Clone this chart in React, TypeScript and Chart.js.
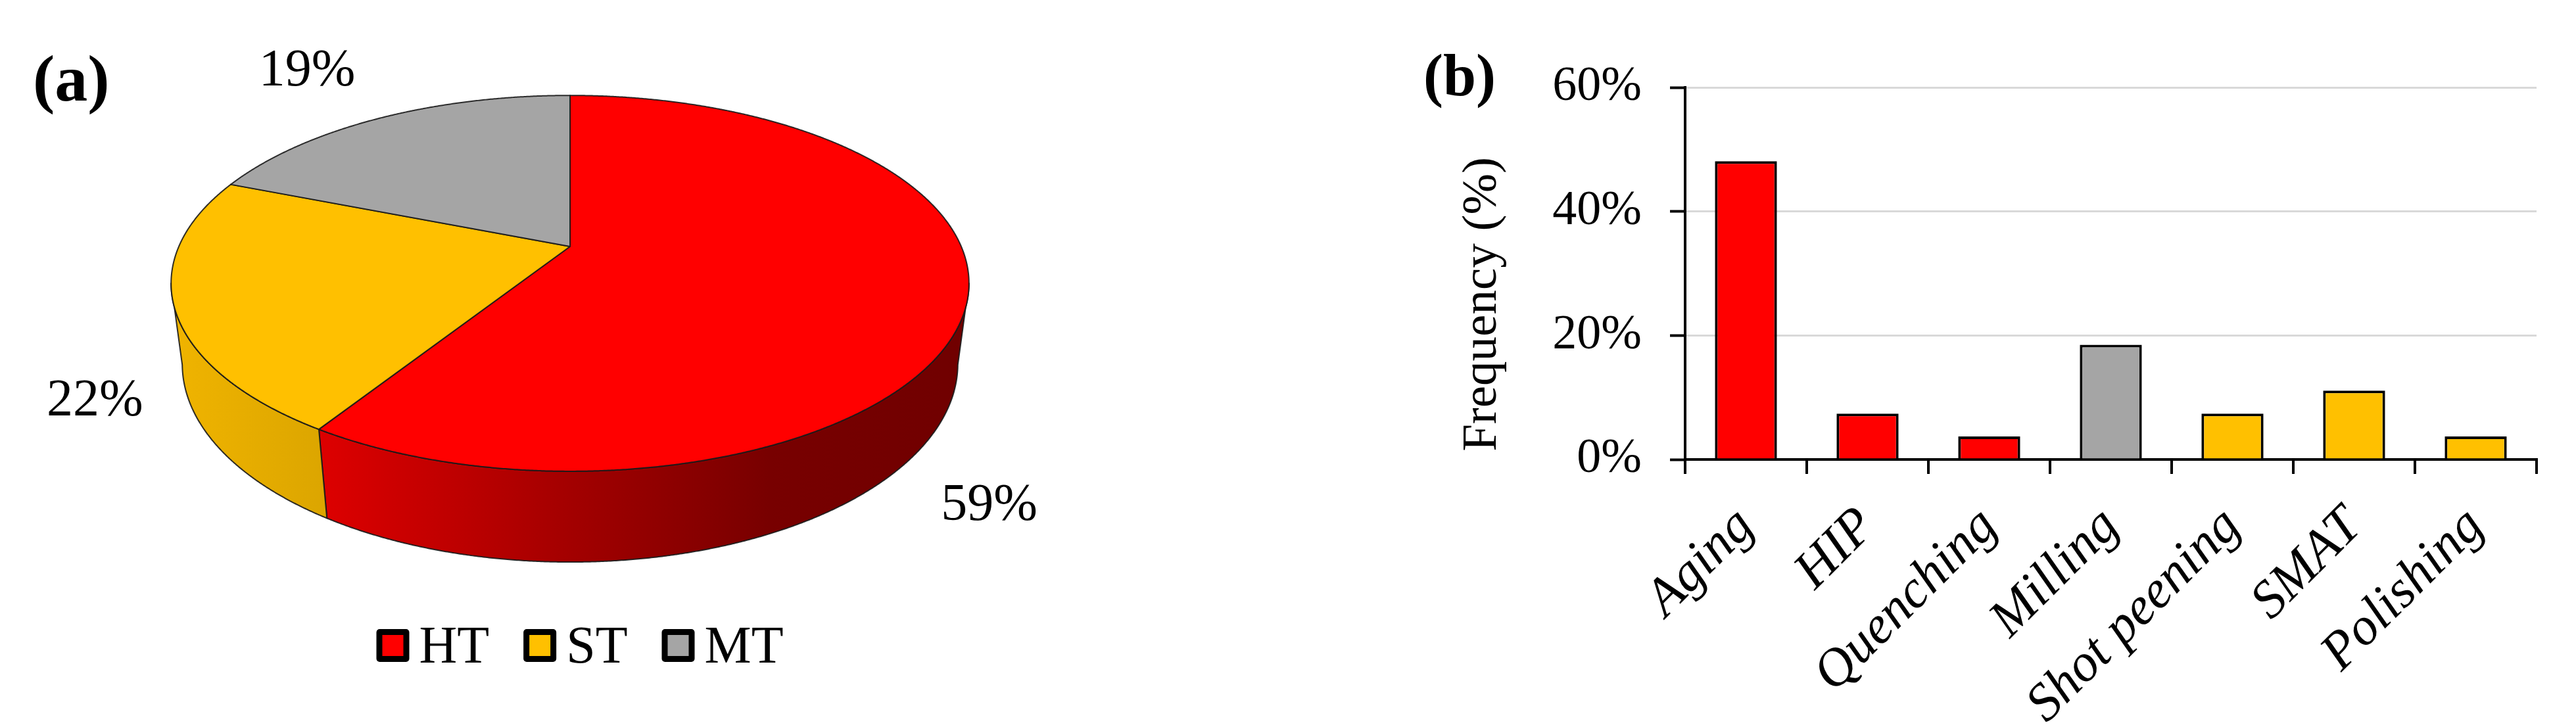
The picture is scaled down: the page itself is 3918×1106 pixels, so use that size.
import React, { useEffect, useRef } from 'react';
import { Chart, registerables } from 'chart.js';

Chart.register(...registerables);

// ---------- data ----------
const pieLabels = ['HT', 'ST', 'MT'];
const pieValues = [59, 22, 19];
const pieColors = ['#FF0000', '#FFC000', '#A5A5A5'];

const barCategories = ['Aging', 'HIP', 'Quenching', 'Milling', 'Shot peening', 'SMAT', 'Polishing'];
const barValues = [48.1, 7.4, 3.7, 18.5, 7.4, 11.1, 3.7];
const barColors = ['#FF0000', '#FF0000', '#FF0000', '#A5A5A5', '#FFC000', '#FFC000', '#FFC000'];
const yTickValues = [0, 20, 40, 60];

const SERIF = '"Liberation Serif", "Times New Roman", Times, serif';

// shading of the pie side wall across its width (position, brightness factor)
const WALL_SHADE: [number, number][] = [
  [0, 0.94],
  [0.2, 0.86],
  [0.5, 0.64],
  [0.75, 0.47],
  [1, 0.44],
];

function shade(hex: string, f: number) {
  const n = parseInt(hex.slice(1), 16);
  const r = (n >> 16) & 255, g = (n >> 8) & 255, b = n & 255;
  return `rgb(${Math.round(r * f)},${Math.round(g * f)},${Math.round(b * f)})`;
}

// ---------- 3D pie plugin ----------
const pie3d = {
  id: 'pie3d',
  beforeDatasetsDraw(chart: any) {
    const meta = chart.getDatasetMeta(0);
    const arcs = meta.data as any[];
    if (!arcs || !arcs.length) return false;
    const ctx: CanvasRenderingContext2D = chart.ctx;
    const cx = arcs[0].x, cy = arcs[0].y, R = arcs[0].outerRadius;
    const A = R, B = 0.462 * R, K = 0.196, CD = 0.209 * R, MD = 0.0277;
    const proj = (ang: number, d: number) => {
      const x = Math.cos(ang), y = Math.sin(ang);
      const w = 1 - K * y + MD * d;
      return [cx + (A * x) / w, cy + (B * y + CD * d) / w];
    };
    const ds = chart.data.datasets[0];
    const colors = ds.backgroundColor as string[];
    const step = 0.004;
    const angMin = Math.asin(K), angMax = Math.PI - angMin;
    const halfW = A / Math.sqrt(1 - K * K);

    ctx.save();
    ctx.lineJoin = 'round';
    ctx.lineWidth = 2;
    ctx.strokeStyle = 'rgba(25,25,25,0.9)';

    // side walls (front facing part)
    arcs.forEach((arc, i) => {
      const lo = Math.max(arc.startAngle, angMin), hi = Math.min(arc.endAngle, angMax);
      if (hi <= lo) return;
      const n = Math.max(2, Math.ceil((hi - lo) / step));
      ctx.beginPath();
      for (let j = 0; j <= n; j++) {
        const p = proj(lo + ((hi - lo) * j) / n, 0);
        if (j) ctx.lineTo(p[0], p[1]); else ctx.moveTo(p[0], p[1]);
      }
      for (let j = n; j >= 0; j--) {
        const p = proj(lo + ((hi - lo) * j) / n, 1);
        ctx.lineTo(p[0], p[1]);
      }
      ctx.closePath();
      const g = ctx.createLinearGradient(cx - halfW, 0, cx + halfW, 0);
      WALL_SHADE.forEach(([t, f]) => g.addColorStop(t, shade(colors[i], f)));
      ctx.fillStyle = g;
      ctx.fill();
      ctx.stroke();
    });

    // top faces
    arcs.forEach((arc, i) => {
      const s = arc.startAngle, e = arc.endAngle;
      const n = Math.max(2, Math.ceil((e - s) / step));
      ctx.beginPath();
      ctx.moveTo(cx, cy);
      for (let j = 0; j <= n; j++) {
        const p = proj(s + ((e - s) * j) / n, 0);
        ctx.lineTo(p[0], p[1]);
      }
      ctx.closePath();
      ctx.fillStyle = colors[i];
      ctx.fill();
      ctx.stroke();
    });

    // silhouette paths for label placement
    const topPath = new Path2D();
    for (let j = 0; j <= 720; j++) {
      const p = proj((j / 720) * Math.PI * 2, 0);
      if (j) topPath.lineTo(p[0], p[1]); else topPath.moveTo(p[0], p[1]);
    }
    topPath.closePath();
    const wallPath = new Path2D();
    const nW = 400;
    for (let j = 0; j <= nW; j++) {
      const p = proj(angMin + ((angMax - angMin) * j) / nW, 0);
      if (j) wallPath.lineTo(p[0], p[1]); else wallPath.moveTo(p[0], p[1]);
    }
    for (let j = nW; j >= 0; j--) {
      const p = proj(angMin + ((angMax - angMin) * j) / nW, 1);
      wallPath.lineTo(p[0], p[1]);
    }
    wallPath.closePath();

    // percentage labels
    const values = ds.data as number[];
    const total = values.reduce((a, b) => a + b, 0);
    const fs = 80;
    ctx.font = `${fs}px ${SERIF}`;
    ctx.fillStyle = '#000';
    ctx.textAlign = 'center';
    ctx.textBaseline = 'alphabetic';
    arcs.forEach((arc, i) => {
      const midNum = (arc.startAngle + arc.endAngle) / 2;
      let ux: number, uy: number, oy: number;
      if (Math.sin(midNum) < 0) {
        // back slice: direction of projected mid point, measured from apex
        const pm = proj(midNum, 0);
        const dx = pm[0] - cx, dy = pm[1] - cy, L = Math.hypot(dx, dy);
        ux = dx / L; uy = dy / L; oy = cy;
      } else {
        // front slice: middle of the slice's screen span, from lowered centre
        const p1 = proj(arc.startAngle, 0), p2 = proj(arc.endAngle, 0);
        const a1 = Math.atan2(p1[1] - cy, p1[0] - cx);
        let a2 = Math.atan2(p2[1] - cy, p2[0] - cx);
        while (a2 <= a1) a2 += Math.PI * 2;
        const mid = (a1 + a2) / 2;
        ux = Math.cos(mid); uy = Math.sin(mid); oy = cy + 0.11 * R;
      }
      let s = 0;
      while (
        s < 3000 &&
        (ctx.isPointInPath(topPath, cx + ux * s, oy + uy * s) ||
          ctx.isPointInPath(wallPath, cx + ux * s, oy + uy * s))
      ) s += 2;
      const text = Math.round((values[i] / total) * 100) + '%';
      const hw = ctx.measureText(text).width / 2, hh = 0.33 * fs;
      const dist = s + hw * Math.abs(ux) + hh * Math.abs(uy) + 60;
      ctx.fillText(text, cx + ux * dist, oy + uy * dist + hh);
    });

    ctx.restore();
    return false;
  },
  afterDraw(chart: any) {
    const ctx: CanvasRenderingContext2D = chart.ctx;
    const meta = chart.getDatasetMeta(0);
    const arc = meta.data[0] as any;
    const colors = chart.data.datasets[0].backgroundColor as string[];
    const labels = chart.data.labels as string[];
    ctx.save();
    // panel label
    ctx.fillStyle = '#000';
    ctx.font = `bold 100px ${SERIF}`;
    ctx.textAlign = 'left';
    ctx.textBaseline = 'alphabetic';
    ctx.fillText('(a)', 50, 153);
    // legend
    const fs = 80, box = 50, border = 9, gapText = 15, gapItem = 52;
    ctx.font = `${fs}px ${SERIF}`;
    const widths = labels.map((l) => ctx.measureText(l).width);
    const totalW = widths.reduce((a, w) => a + box + gapText + w, 0) + gapItem * (labels.length - 1);
    let x = arc.x + 15 - totalW / 2;
    const boxTop = chart.height - 149;
    const baseline = boxTop + 51;
    labels.forEach((l, i) => {
      ctx.fillStyle = '#000';
      ctx.beginPath();
      (ctx as any).roundRect(x, boxTop, box, box, 5);
      ctx.fill();
      ctx.fillStyle = colors[i];
      ctx.fillRect(x + border, boxTop + border, box - 2 * border, box - 2 * border);
      ctx.fillStyle = '#000';
      ctx.fillText(l, x + box + gapText, baseline);
      x += box + gapText + widths[i] + gapItem;
    });
    ctx.restore();
  },
};

// ---------- bar decorations ----------
const barDecor = {
  id: 'barDecor',
  afterDraw(chart: any) {
    const ctx: CanvasRenderingContext2D = chart.ctx;
    const ca = chart.chartArea;
    ctx.save();
    ctx.fillStyle = '#000';
    ctx.font = `bold 90px ${SERIF}`;
    ctx.textAlign = 'left';
    ctx.textBaseline = 'alphabetic';
    ctx.fillText('(b)', 65, 145);
    ctx.translate(ca.left - 288, (ca.top + ca.bottom) / 2 + 47);
    ctx.rotate(-Math.PI / 2);
    ctx.font = `75px ${SERIF}`;
    ctx.textAlign = 'center';
    ctx.fillText('Frequency (%)', 0, 0);
    ctx.restore();
  },
};

export default function App() {
  const pieRef = useRef<HTMLCanvasElement>(null);
  const barRef = useRef<HTMLCanvasElement>(null);

  useEffect(() => {
    document.body.style.margin = '0';
    const pie = new Chart(pieRef.current as HTMLCanvasElement, {
      type: 'pie',
      data: {
        labels: pieLabels,
        datasets: [{ data: pieValues, backgroundColor: pieColors, borderWidth: 0 }],
      },
      options: {
        responsive: false,
        animation: false,
        devicePixelRatio: 1,
        radius: 595,
        layout: { padding: { left: 0, top: 0, right: 16, bottom: 356 } },
        plugins: { legend: { display: false }, tooltip: { enabled: false } },
      } as any,
      plugins: [pie3d as any],
    });

    const bar = new Chart(barRef.current as HTMLCanvasElement, {
      type: 'bar',
      data: {
        labels: barCategories,
        datasets: [
          {
            data: barValues,
            backgroundColor: barColors,
            borderColor: '#000',
            borderWidth: 4,
            barPercentage: 0.51,
            categoryPercentage: 1,
          },
        ],
      },
      options: {
        responsive: false,
        animation: false,
        devicePixelRatio: 1,
        layout: { padding: { left: 0, top: 133, right: 60, bottom: 0 } },
        plugins: { legend: { display: false }, tooltip: { enabled: false } },
        scales: {
          x: {
            grid: {
              display: true,
              drawOnChartArea: false,
              drawTicks: true,
              offset: true,
              tickLength: 22,
              tickWidth: 4,
              tickColor: '#000',
              color: '#000',
              lineWidth: 4,
            },
            border: { display: true, color: '#000', width: 4 },
            ticks: {
              autoSkip: false,
              maxRotation: 45,
              minRotation: 45,
              padding: 33,
              color: '#000',
              font: { family: SERIF, size: 81, style: 'italic' },
            },
            afterFit: (s: any) => { s.height = 407; },
          },
          y: {
            min: 0,
            max: 60,
            afterBuildTicks: (s: any) => { s.ticks = yTickValues.map((v) => ({ value: v })); },
            grid: {
              color: (c: any) => (c.tick && c.tick.value === 0 ? 'rgba(0,0,0,0)' : '#D9D9D9'),
              lineWidth: 3,
              drawTicks: true,
              tickLength: 23,
              tickWidth: 4,
              tickColor: '#000',
            },
            border: { display: true, color: '#000', width: 4 },
            ticks: {
              padding: 43,
              color: '#000',
              font: { family: SERIF, size: 74 },
              callback: (v: any) => v + '%',
            },
            afterFit: (s: any) => { s.width = 463; },
          },
        },
      } as any,
      plugins: [barDecor as any],
    });

    return () => {
      pie.destroy();
      bar.destroy();
    };
  }, []);

  return (
    <div style={{ position: 'absolute', left: 0, top: 0, width: 3918, height: 1106, background: '#fff' }}>
      <canvas ref={pieRef} width={1750} height={1106} style={{ position: 'absolute', left: 0, top: 0 }} />
      <canvas ref={barRef} width={1818} height={1106} style={{ position: 'absolute', left: 2100, top: 0 }} />
    </div>
  );
}
